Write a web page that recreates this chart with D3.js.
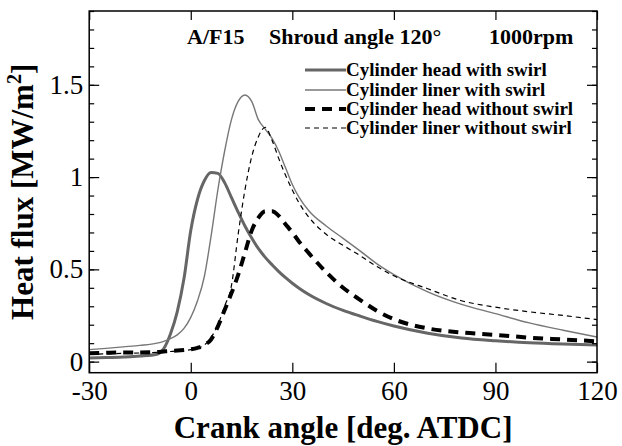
<!DOCTYPE html>
<html><head><meta charset="utf-8">
<script src="https://cdn.jsdelivr.net/npm/d3@7/dist/d3.min.js"></script>
<style>
html,body{margin:0;padding:0;background:#fff;}
text{font-family:"Liberation Serif","Times New Roman",serif;}
</style></head>
<body><svg id="c" width="622" height="446"></svg>
<script>
const crankAngle = [-30,-25,-20,-15,-10,-8,-6,-4,-2,0,2,4,6,8,10,12,14,16,18,20,22,24,26,28,30,32,35,40,45,50,55,60,70,80,90,100,110,120];
const headWithSwirl = [0.02,0.022,0.025,0.03,0.04,0.07,0.15,0.27,0.45,0.71,0.88,0.98,1.025,1.02,0.97,0.89,0.81,0.735,0.67,0.612,0.565,0.525,0.488,0.455,0.425,0.398,0.362,0.315,0.278,0.247,0.218,0.193,0.154,0.128,0.113,0.102,0.095,0.09];
const linerWithSwirl = [0.065,0.072,0.08,0.088,0.10,0.11,0.125,0.145,0.18,0.24,0.33,0.46,0.68,0.93,1.14,1.31,1.41,1.445,1.41,1.31,1.26,1.21,1.14,1.05,0.96,0.89,0.815,0.735,0.668,0.60,0.53,0.472,0.378,0.31,0.26,0.21,0.17,0.133];
const headWithoutSwirl = [0.045,0.048,0.05,0.05,0.052,0.055,0.058,0.06,0.063,0.067,0.075,0.09,0.12,0.19,0.28,0.37,0.47,0.59,0.71,0.78,0.815,0.815,0.79,0.745,0.70,0.65,0.585,0.485,0.40,0.335,0.275,0.23,0.18,0.158,0.145,0.13,0.12,0.11];
const linerWithoutSwirl = [0.04,0.042,0.045,0.047,0.05,0.052,0.055,0.058,0.06,0.065,0.072,0.09,0.13,0.20,0.30,0.41,0.69,0.93,1.11,1.22,1.27,1.20,1.10,1.01,0.93,0.86,0.78,0.69,0.63,0.575,0.515,0.465,0.395,0.33,0.295,0.27,0.25,0.228];
const seriesNames = ["Cylinder head with swirl","Cylinder liner with swirl","Cylinder head without swirl","Cylinder liner without swirl"];
const xTicks = [-30,0,30,60,90,120];
const xTickLabels = ["-30","0","30","60","90","120"];
const yTicks = [0,0.5,1,1.5];
const yTickLabels = ["0","0.5","1","1.5"];
const yMinorTicks = [0,0.1,0.2,0.3,0.4,0.5,0.6,0.7,0.8,0.9,1.0,1.1,1.2,1.3,1.4,1.5,1.6,1.7,1.8,1.9];

const svg = d3.select("#c");
const L=89.2, R=597, T=11, B=372.7;
const x = d3.scaleLinear().domain([-30,120]).range([L,R]);
const y = d3.scaleLinear().domain([-0.06,1.9]).range([B,T]);

const styles = [
  {stroke:"#666", w:3, dash:null},
  {stroke:"#777", w:1.4, dash:null},
  {stroke:"#000", w:4, dash:"10,7"},
  {stroke:"#000", w:1.2, dash:"5,4"}
];
const allSeries = [headWithSwirl, linerWithSwirl, headWithoutSwirl, linerWithoutSwirl];

svg.append("clipPath").attr("id","pc").append("rect")
  .attr("x",L).attr("y",T).attr("width",R-L).attr("height",B-T);

const line = d3.line().x((d,i)=>x(crankAngle[i])).y(d=>y(d)).curve(d3.curveMonotoneX);
const g = svg.append("g").attr("clip-path","url(#pc)");
allSeries.forEach((s,k)=>{
  g.append("path").datum(s).attr("d",line).attr("fill","none")
   .attr("stroke",styles[k].stroke).attr("stroke-width",styles[k].w)
   .attr("stroke-dasharray",styles[k].dash);
});

// axes
const fmtX = (d)=> xTickLabels[xTicks.indexOf(d)];
const fmtY = (d)=> yTickLabels[yTicks.indexOf(d)];
const ax = svg.append("g").attr("transform",`translate(0,${B})`)
  .call(d3.axisBottom(x).tickValues(xTicks).tickSizeInner(-10).tickSizeOuter(0).tickPadding(6).tickFormat(fmtX));
svg.append("g").attr("transform",`translate(0,${T})`)
  .call(d3.axisTop(x).tickValues(xTicks).tickSizeInner(-9).tickSizeOuter(0).tickFormat(""));
svg.append("g").attr("transform",`translate(${L},0)`)
  .call(d3.axisLeft(y).tickValues(yMinorTicks).tickSizeInner(-5).tickSizeOuter(0).tickFormat(""));
svg.append("g").attr("transform",`translate(${L},0)`)
  .call(d3.axisLeft(y).tickValues(yTicks).tickSizeInner(-10).tickSizeOuter(0).tickPadding(6).tickFormat(fmtY));
svg.append("g").attr("transform",`translate(${R},0)`)
  .call(d3.axisRight(y).tickValues(yMinorTicks).tickSizeInner(-5).tickSizeOuter(0).tickFormat(""));
svg.append("g").attr("transform",`translate(${R},0)`)
  .call(d3.axisRight(y).tickValues(yTicks).tickSizeInner(-10).tickSizeOuter(0).tickFormat(""));
svg.selectAll(".domain").remove();
svg.selectAll(".tick line").attr("stroke","#000").attr("stroke-width",1.2);
svg.selectAll(".tick text").attr("font-family","Liberation Serif").attr("font-size",27).attr("fill","#000");
ax.selectAll(".tick text").attr("dy","0.78em");
svg.append("rect").attr("x",L).attr("y",T).attr("width",R-L).attr("height",B-T)
  .attr("fill","none").attr("stroke","#000").attr("stroke-width",1.5);

// axis titles
svg.append("text").attr("x",(L+R)/2).attr("y",438).attr("text-anchor","middle")
  .attr("font-size",31).attr("font-weight","bold").text("Crank angle [deg. ATDC]");
const yt = svg.append("text").attr("transform",`translate(33,${(T+B)/2}) rotate(-90)`)
  .attr("text-anchor","middle").attr("font-size",31).attr("font-weight","bold");
yt.append("tspan").text("Heat flux [MW/m");
yt.append("tspan").attr("font-size",20).attr("dy",-12).text("2");
yt.append("tspan").attr("dy",12).text("]");

// header
const hdr = svg.append("g").attr("font-size",22).attr("font-weight","bold");
hdr.append("text").attr("x",187).attr("y",44).text("A/F15");
hdr.append("text").attr("x",269).attr("y",44).text("Shroud angle 120°");
hdr.append("text").attr("x",489).attr("y",44).text("1000rpm");

// legend
const legY = [70,90,109,128];
seriesNames.forEach((n,k)=>{
  svg.append("line").attr("x1",305).attr("x2",346).attr("y1",legY[k]).attr("y2",legY[k])
    .attr("stroke",styles[k].stroke).attr("stroke-width",styles[k].w)
    .attr("stroke-dasharray",styles[k].dash);
  svg.append("text").attr("x",346).attr("y",legY[k]+6).attr("font-size",19)
    .attr("font-weight","bold").text(n);
});
</script></body></html>
